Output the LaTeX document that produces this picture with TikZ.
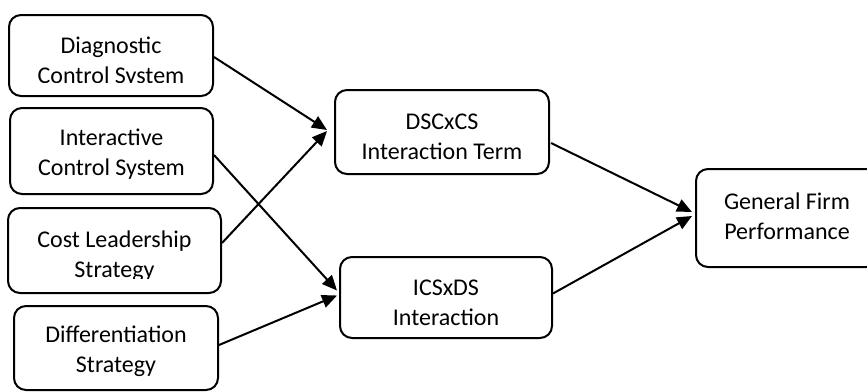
\documentclass[tikz,border=0pt]{standalone}
\usepackage{fontspec}
\setmainfont{Carlito}
\usetikzlibrary{arrows.meta}
\begin{document}
\begin{tikzpicture}[x=0.5pt,y=-0.5pt,
  box/.style={draw=black,line width=1pt,rounded corners=6pt,inner sep=0pt},
  txt/.style={align=center,font=\fontsize{12pt}{15pt}\selectfont,inner sep=0pt},
  arr/.style={draw=black,line width=1pt,-{Triangle[length=7.5pt,width=6.5pt]}}]
\useasboundingbox (0,0) rectangle (867,391);
\clip (0,0) rectangle (867,391);
% left boxes
\node[box,minimum width=102pt,minimum height=40.5pt] (dcs) at (111,55.5) {};
\node[box,minimum width=101.5pt,minimum height=43pt] (ics) at (111.5,151) {};
\node[box,minimum width=106.5pt,minimum height=42.5pt] (cls) at (114.5,250.5) {};
\node[box,minimum width=102pt,minimum height=42pt] (ds) at (116,348) {};
% middle boxes
\node[box,minimum width=107pt,minimum height=42pt] (dsc) at (442,132) {};
\node[box,minimum width=106pt,minimum height=40.5pt] (icd) at (446,297.5) {};
% right box
\node[box,minimum width=91pt,minimum height=49pt] (gfp) at (787,218) {};
% texts
\begin{scope}
\clip (9,15) rectangle (213,82);
\node[txt] (dcst) at (111,62) {Diagnostic\\Control System};
\end{scope}
\node[txt] (icst) at (111.5,154) {Interactive\\Control System};
\begin{scope}
\clip (9,208) rectangle (221,278);
\node[txt] (clst) at (114.5,256) {Cost Leadership\\Strategy};
\end{scope}
\node[txt] (dst) at (116,351) {Differentiation\\Strategy};
\node[txt] (dsct) at (442,137) {DSCxCS\\Interaction Term};
\node[txt] (icdt) at (446,303) {ICSxDS\\Interaction};
\node[txt] (gfpt) at (787,216) {General Firm\\Performance};
% connectors
\draw[arr] ([shift={(0,1.5)}]dcs.east) -- ([shift={(-7,-2)}]dsc.west);
\draw[arr] ([shift={(0,4)}]ics.east) -- ([shift={(-2,-7)}]icd.west);
\draw[arr] ([shift={(0,-7.5)}]cls.east) -- ([shift={(-7,-1)}]dsc.west);
\draw[arr] ([shift={(0,-3)}]ds.east) -- ([shift={(-2,-2)}]icd.west);
\draw[arr] ([shift={(1,11)}]dsc.east) -- ([shift={(-3,-6)}]gfp.west);
\draw[arr] ([shift={(0,-4)}]icd.east) -- ([shift={(-3,-2)}]gfp.west);
\end{tikzpicture}
\end{document}
